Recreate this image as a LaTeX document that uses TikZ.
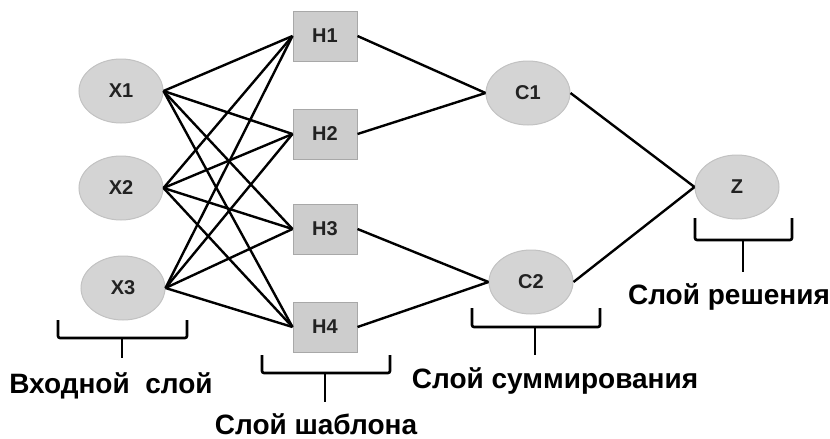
\documentclass[tikz,border=0pt]{standalone}
\usepackage{fontspec}
\setmainfont{Liberation Sans}
\usetikzlibrary{shapes.geometric}
\definecolor{nodefill}{HTML}{D4D4D4}
\definecolor{nodeedge}{HTML}{C2C2C2}
\definecolor{boxfill}{HTML}{CDCDCD}
\definecolor{boxedge}{HTML}{A8A8A8}
\definecolor{ink}{HTML}{222222}
\begin{document}
\begin{tikzpicture}[x=1pt,y=-1pt,
  unit/.style={ellipse, draw=nodeedge, line width=1pt, fill=nodefill,
    minimum width=84pt, minimum height=64pt, inner sep=0pt,
    font=\bfseries\fontsize{20}{20}\selectfont, text=ink},
  pattern/.style={rectangle, draw=boxedge, line width=1pt, fill=boxfill,
    minimum width=64pt, minimum height=50pt, inner sep=0pt,
    font=\bfseries\fontsize{20}{20}\selectfont, text=ink},
  link/.style={line width=2.4pt, black},
  bracket/.style={line width=2.6pt, black, rounded corners=2pt},
  caption/.style={font=\bfseries\fontsize{28}{28}\selectfont, inner sep=0pt,
    anchor=base}
]
\useasboundingbox (0,0) rectangle (830,439);

% input layer
\node[unit] (x1) at (121,91)  {X1};
\node[unit] (x2) at (121,188) {X2};
\node[unit] (x3) at (123,288) {X3};

% pattern layer
\node[pattern] (h1) at (325,36)  {H1};
\node[pattern] (h2) at (325,134) {H2};
\node[pattern] (h3) at (325,229) {H3};
\node[pattern] (h4) at (325,327) {H4};

% summation layer
\node[unit] (c1) at (528,93)  {C1};
\node[unit] (c2) at (531,282) {C2};

% decision layer
\node[unit] (z) at (737,187) {Z};

% full connections input -> pattern
\foreach \i in {1,2,3}
  \foreach \j in {1,2,3,4}
    \draw[link] (x\i.east) -- (h\j.west);

% pattern -> summation
\draw[link] (h1.east) -- (c1.west);
\draw[link] (h2.east) -- (c1.west);
\draw[link] (h3.east) -- (c2.west);
\draw[link] (h4.east) -- (c2.west);

% summation -> decision
\draw[link] (c1.east) -- (z.west);
\draw[link] (c2.east) -- (z.west);

% layer brackets
\draw[bracket] (58,320) -- (58,338) -- (187,338) -- (187,320);
\draw[bracket] (122,338) -- (122,358);
\draw[bracket] (262,355) -- (262,373) -- (390,373) -- (390,355);
\draw[bracket] (325,373) -- (325,402);
\draw[bracket] (472,308) -- (472,327) -- (600,327) -- (600,308);
\draw[bracket] (535,327) -- (535,355);
\draw[bracket] (695,218) -- (695,240) -- (792,240) -- (792,218);
\draw[bracket] (743,240) -- (743,272);

% layer captions (anchored on the baseline)
\node[caption] (lin)  at (111,393) {Входной~~слой};
\node[caption] (lpat) at (316,434) {Слой шаблона};
\node[caption] (lsum) at (555,388) {Слой суммирования};
\node[caption] (ldec) at (729,304) {Слой решения};
\end{tikzpicture}
\end{document}
